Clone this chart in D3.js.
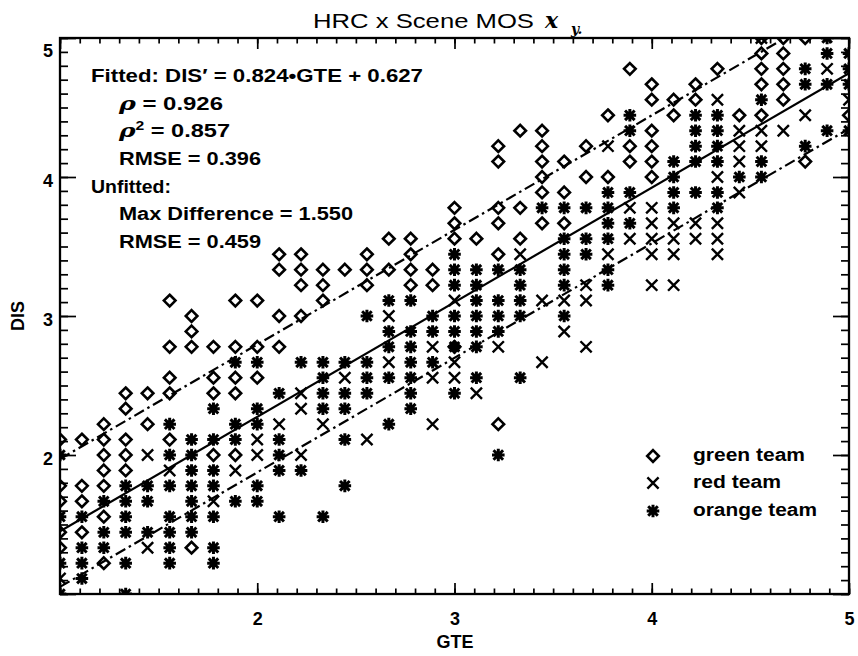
<!DOCTYPE html>
<html><head><meta charset="utf-8">
<script src="https://cdn.jsdelivr.net/npm/d3@7/dist/d3.min.js"></script>
<style>body{margin:0;background:#fff}text{font-family:"Liberation Sans",Arial,sans-serif;fill:#000}</style>
</head><body><svg id="c" width="858" height="656"></svg>
<script>
// ---- data (GTE column, DIS values in that column) ----
const green = [
 [1.000,[2.111,1.778,1.667,1.444,1.333]],[1.111,[2.111,1.778,1.667,1.444]],
 [1.222,[2.222,2.111,2.000,1.889,1.778,1.556,1.222]],[1.333,[2.444,2.333,2.111,2.000,1.889]],
 [1.444,[2.444,2.222]],[1.556,[3.111,2.778,2.556,2.444,2.111]],[1.667,[3.000,2.889,2.778,1.333]],
 [1.778,[2.778,2.556,2.444,2.000]],[1.889,[3.111,2.778,2.556,2.444,2.000]],[2.000,[3.111,2.778,2.556]],
 [2.111,[3.444,3.333,3.000,2.778]],[2.222,[3.444,3.333,3.222,3.000]],[2.333,[3.333,3.222,3.111]],
 [2.444,[3.333]],[2.556,[3.444,3.333,3.222]],[2.667,[3.556,3.333]],[2.778,[3.556,3.444,3.333,3.222]],
 [2.889,[3.333,3.222]],[3.000,[3.778,3.667,3.556,2.778]],[3.111,[3.556]],
 [3.222,[4.222,4.111,3.778,3.667,3.444,2.222]],[3.333,[4.333,3.778,3.556]],
 [3.444,[4.333,4.222,4.111,4.000,3.889,3.667]],[3.556,[4.111,3.889,3.667]],[3.667,[4.222,4.000]],
 [3.778,[4.444,4.000]],[3.889,[4.778,4.222,4.111]],[4.000,[4.667,4.556,4.333,4.222,4.111,4.000]],
 [4.111,[4.556,4.444]],[4.222,[4.667,4.556]],[4.333,[4.778]],[4.444,[4.444]],
 [4.556,[5.000,4.889,4.778,4.667,4.444]],[4.667,[5.000,4.889,4.778,4.667,4.556]],
 [4.778,[5.000,4.111]],[5.000,[4.444]]
];
const red = [
 [1.000,[1.111]],[1.444,[2.000,1.333]],[1.556,[1.889]],[1.778,[1.667]],[1.889,[1.889]],
 [2.000,[2.111,2.000]],[2.111,[2.222]],[2.222,[2.444,2.333,2.000]],[2.333,[2.222]],[2.444,[2.556]],
 [2.556,[2.111]],[2.667,[3.000,2.667]],[2.889,[2.778,2.556,2.222]],[3.000,[3.111,2.667,2.556]],
 [3.111,[2.444]],[3.222,[2.778]],[3.333,[3.444]],[3.444,[3.111,2.667]],[3.556,[3.111,2.889]],
 [3.667,[3.222,3.111,2.778]],[3.778,[4.222,3.444]],[3.889,[3.778,3.556]],
 [4.000,[3.778,3.667,3.556,3.444,3.222]],[4.111,[3.667,3.556,3.444,3.222]],[4.222,[3.667,3.556]],
 [4.333,[4.556,4.000,3.667,3.556,3.444]],[4.444,[4.333,4.222,4.111,3.889]],
 [4.556,[5.000,4.333,4.222]],[4.667,[4.333]],[4.778,[4.444]],[4.889,[4.778]],[5.000,[4.556]]
];
const orange = [
 [1.000,[2.000,1.556,1.222,1.000]],[1.111,[1.556,1.333,1.222,1.111]],[1.222,[1.667,1.444,1.333]],
 [1.333,[1.778,1.667,1.556,1.444,1.222,1.000]],[1.444,[1.778,1.667,1.444]],
 [1.556,[2.222,2.000,1.778,1.556,1.444,1.333,1.222]],[1.667,[2.111,2.000,1.889,1.778,1.667,1.556,1.444]],
 [1.778,[2.333,2.111,1.889,1.778,1.556,1.333,1.222]],[1.889,[2.667,2.222,2.111,1.667]],
 [2.000,[2.667,2.333,2.222,1.778,1.667]],[2.111,[2.444,2.111,2.000,1.889,1.556]],[2.222,[2.667,1.889]],
 [2.333,[2.667,2.556,2.444,2.333,1.556]],[2.444,[2.667,2.444,2.333,2.111,1.778]],
 [2.556,[3.000,2.667,2.556,2.444]],[2.667,[3.111,2.889,2.778,2.556,2.222]],
 [2.778,[3.111,2.889,2.778,2.667,2.556,2.444,2.333]],[2.889,[3.000,2.889,2.667]],
 [3.000,[3.444,3.333,3.222,3.000,2.889,2.778,2.444]],[3.111,[3.333,3.222,3.111,3.000,2.889,2.778,2.556]],
 [3.222,[3.333,3.111,3.000,2.889,2.000]],[3.333,[3.333,3.222,3.111,3.000,2.556]],[3.444,[3.778]],
 [3.556,[3.778,3.556,3.444,3.333,3.222,3.000]],[3.667,[3.778,3.556,3.444]],
 [3.778,[3.889,3.778,3.667,3.556,3.333,3.222]],[3.889,[4.444,4.333,3.889,3.667]],
 [4.111,[4.111,4.000,3.889,3.778]],[4.222,[4.444,4.333,4.222,4.111,3.889]],
 [4.333,[4.444,4.333,4.222,4.111,3.889,3.778]],[4.444,[4.000]],[4.556,[4.556,4.111,4.000]],
 [4.778,[4.778,4.667,4.222]],[4.889,[5.000,4.889,4.667,4.333]],[5.000,[4.889,4.778,4.667,4.333]]
];
const teams = ["green team","red team","orange team"];
const fitSlope = 0.824, fitIntercept = 0.627;
const bandUpper = 0.52, bandLower = -0.40;
const statLines = [
 {indent:0, parts:[["Fitted: DIS\u2032 = 0.824\u2022GTE + 0.627",""]]},
 {indent:1, parts:[["\u03C1","i"],[" = 0.926",""]]},
 {indent:1, parts:[["\u03C1","i"],["2","sup"],[" = 0.857","down"]]},
 {indent:1, parts:[["RMSE = 0.396",""]]},
 {indent:0, parts:[["Unfitted:",""]]},
 {indent:1, parts:[["Max Difference = 1.550",""]]},
 {indent:1, parts:[["RMSE = 0.459",""]]}
];
const statWidths = [332,104,111,142,80,234,142];
const xMajor = [1,2,3,4,5], yMajor = [1,2,3,4,5];

// ---- layout ----
const svg = d3.select("#c");
const L=60,R=849,T=38,B=594;
const x = d3.scaleLinear().domain([1,5]).range([L,R]);
const y = d3.scaleLinear().domain([1,5]).range([B,T]);
const minor = d3.range(10,51).map(v=>v/10);

svg.append("defs").append("clipPath").attr("id","clip")
  .append("rect").attr("x",L).attr("y",T).attr("width",R-L).attr("height",B-T);

const fmt = d=> (d===1?"":d3.format("d")(d));
function styleAxis(g){ g.select(".domain").remove(); g.selectAll("line").attr("stroke","#000").attr("stroke-width",1.7);
  g.selectAll("text").style("font-family","Liberation Sans, Arial").style("font-weight","bold").style("font-size","18px").attr("fill","#000"); }
svg.append("g").attr("transform",`translate(0,${B})`).call(d3.axisBottom(x).tickValues(minor).tickSize(-5.5).tickFormat("")).call(styleAxis);
svg.append("g").attr("transform",`translate(0,${B})`).call(d3.axisBottom(x).tickValues(xMajor).tickSize(-11).tickPadding(18).tickFormat(fmt)).call(styleAxis);
svg.append("g").attr("transform",`translate(0,${T})`).call(d3.axisTop(x).tickValues(minor).tickSize(-5.5).tickFormat("")).call(styleAxis);
svg.append("g").attr("transform",`translate(0,${T})`).call(d3.axisTop(x).tickValues(xMajor).tickSize(-11).tickFormat("")).call(styleAxis);
svg.append("g").attr("transform",`translate(${L},0)`).call(d3.axisLeft(y).tickValues(minor).tickSize(-8).tickFormat("")).call(styleAxis);
const yl = svg.append("g").attr("transform",`translate(${L},0)`).call(d3.axisLeft(y).tickValues(yMajor).tickSize(-16).tickPadding(7).tickFormat(fmt)).call(styleAxis);
yl.selectAll("text").attr("dy", d=> d===5 ? "1.0em" : "0.55em");
svg.append("g").attr("transform",`translate(${R},0)`).call(d3.axisRight(y).tickValues(minor).tickSize(-8).tickFormat("")).call(styleAxis);
svg.append("g").attr("transform",`translate(${R},0)`).call(d3.axisRight(y).tickValues(yMajor).tickSize(-16).tickFormat("")).call(styleAxis);
svg.append("rect").attr("x",L).attr("y",T).attr("width",R-L).attr("height",B-T).attr("fill","none").attr("stroke","#000").attr("stroke-width",2.3);

// markers
const sym = {
 "green team":"M0,-5.8L5.8,0L0,5.8L-5.8,0Z",
 "red team":"M-5.6,-5.6L5.6,5.6M-5.6,5.6L5.6,-5.6",
 "orange team":"M-6.3,0H6.3M0,-6.3V6.3M-4.8,-4.8L4.8,4.8M-4.8,4.8L4.8,-4.8"
};
const sw = {"green team":2.6,"red team":2.4,"orange team":3};
const plot = svg.append("g").attr("clip-path","url(#clip)");
[green,red,orange].forEach((set,i)=>{
  const pts = set.flatMap(([g,ds])=>ds.map(d=>({g,d})));
  plot.append("g").selectAll("path").data(pts).join("path")
   .attr("d",sym[teams[i]]).attr("transform",p=>`translate(${x(p.g)},${y(p.d)})`)
   .attr("fill","none").attr("stroke","#000").attr("stroke-width",sw[teams[i]]).attr("stroke-linecap","butt");
});

// fit lines
const line = off => d3.line().x(v=>x(v)).y(v=>y(fitSlope*v+fitIntercept+off))([1,5]);
plot.append("path").attr("d",line(0)).attr("stroke","#000").attr("stroke-width",2.2).attr("fill","none");
[bandUpper,bandLower].forEach(o=>plot.append("path").attr("d",line(o)).attr("stroke","#000")
  .attr("stroke-width",2.2).attr("fill","none").attr("stroke-dasharray","11,4,2.5,4"));

// stats text
const baseY=[82,110,137,165,193,220,248];
statLines.forEach((s,i)=>{
  const t = svg.append("text").attr("x",s.indent?119:91).attr("y",baseY[i])
    .style("font-size","18px").style("font-weight","bold");
  s.parts.forEach(([str,k])=>{
    const ts=t.append("tspan").text(str);
    if(k==="i") ts.style("font-style","italic").style("font-family","DejaVu Serif").style("font-size","19px");
    if(k==="sup") ts.attr("dy",-7).style("font-size","12px");
    if(k==="down") ts.attr("dy",7);
  });
  t.attr("textLength",statWidths[i]).attr("lengthAdjust","spacingAndGlyphs");
});

// title
svg.append("text").attr("x",313).attr("y",28).style("font-size","21px").attr("textLength",221).attr("lengthAdjust","spacingAndGlyphs").text("HRC x Scene MOS");
svg.append("text").attr("x",545).attr("y",28).style("font-size","22px").style("font-style","italic").style("font-family","DejaVu Serif").style("font-weight","bold").text("x");
svg.append("text").attr("x",571).attr("y",34).style("font-size","14px").style("font-style","italic").style("font-family","DejaVu Serif").style("font-weight","bold").text("y.");

// axis titles
svg.append("text").attr("x",455).attr("y",648).attr("text-anchor","middle").style("font-size","18px").style("font-weight","bold").text("GTE");
svg.append("text").attr("transform","translate(24,316) rotate(-90)").attr("text-anchor","middle").style("font-size","18px").style("font-weight","bold").text("DIS");

// legend
const lg = svg.append("g");
teams.forEach((tm,i)=>{
  const yy=[456,483,511][i];
  lg.append("path").attr("d",sym[tm]).attr("transform",`translate(653,${yy})`).attr("fill","none").attr("stroke","#000").attr("stroke-width",sw[tm]);
  lg.append("text").attr("x",693).attr("y",yy+5).style("font-size","18px").style("font-weight","bold")
    .attr("textLength",[112,88,124][i]).attr("lengthAdjust","spacingAndGlyphs").text(tm);
});
</script></body></html>
